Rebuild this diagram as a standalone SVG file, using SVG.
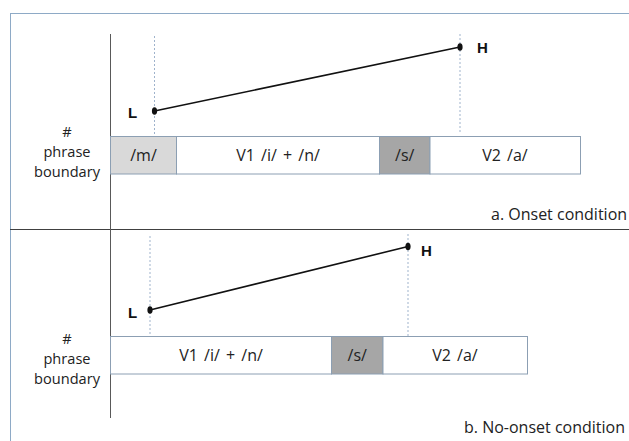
<svg xmlns="http://www.w3.org/2000/svg" width="629" height="441" viewBox="0 0 629 441">
<style>
text{font-family:"Open Sans","Noto Sans","DejaVu Sans",sans-serif;fill:#222}
.lbl{font-size:14.6px;text-anchor:middle}
.bar{font-size:16px;text-anchor:middle;word-spacing:2px}
.tone{font-family:"Liberation Sans",Arial,sans-serif;font-size:15px;font-weight:bold;fill:#111}
.cond{font-size:16px}
.cell{stroke:#8c9fb3;stroke-width:1}
.guide{stroke:#9fb3cc;stroke-width:1;stroke-dasharray:2 2;fill:none}
.contour{stroke:#111;stroke-width:1.6;fill:none}
.dot{fill:#111}
</style>
<rect x="0" y="0" width="629" height="441" fill="#fff"/>
<rect id="frame" x="10.5" y="13.5" width="660" height="470" fill="none" stroke="#8eaac6" stroke-width="1"/>
<line id="divider" x1="10" y1="229.5" x2="629" y2="229.5" stroke="#404040" stroke-width="1"/>
<line id="axis" x1="110.5" y1="34" x2="110.5" y2="418" stroke="#595959" stroke-width="1"/>

<g id="connectors">
<line class="guide" x1="154.5" y1="36" x2="154.5" y2="136"/>
<line class="guide" x1="460" y1="34" x2="460" y2="134"/>
<line class="contour" x1="154.5" y1="111" x2="460" y2="47"/>
<line class="guide" x1="150" y1="236" x2="150" y2="336"/>
<line class="guide" x1="408" y1="234" x2="408" y2="336"/>
<line class="contour" x1="150" y1="310" x2="408" y2="246.5"/>
</g>

<g id="panel-a">
<g id="a-boundary">
<text class="lbl" x="67" y="137">#</text>
<text class="lbl" x="67" y="157">phrase</text>
<text class="lbl" x="67" y="177">boundary</text>
</g>
<g id="a-m"><rect class="cell" x="110.5" y="136.5" width="66" height="37.5" fill="#d9d9d9"/><text class="bar" x="143.5" y="160.5">/m/</text></g>
<g id="a-v1"><rect class="cell" x="176.5" y="136.5" width="203" height="37.5" fill="#fff"/><text class="bar" x="278" y="160.5">V1 /i/ + /n/</text></g>
<g id="a-s"><rect class="cell" x="379.5" y="136.5" width="50.5" height="37.5" fill="#a6a6a6"/><text class="bar" x="404.7" y="160.5">/s/</text></g>
<g id="a-v2"><rect class="cell" x="430" y="136.5" width="150.5" height="37.5" fill="#fff"/><text class="bar" x="505" y="160.5">V2 /a/</text></g>
<g id="a-L"><ellipse class="dot" cx="154.5" cy="111" rx="2.6" ry="3.8"/><text class="tone" x="128" y="117.5">L</text></g>
<g id="a-H"><ellipse class="dot" cx="460" cy="47" rx="2.6" ry="3.8"/><text class="tone" x="477" y="53.3">H</text></g>
<text class="cond" x="491" y="219.5">a. Onset condition</text>
</g>

<g id="panel-b">
<g id="b-boundary">
<text class="lbl" x="67" y="344">#</text>
<text class="lbl" x="67" y="364">phrase</text>
<text class="lbl" x="67" y="384">boundary</text>
</g>
<g id="b-v1"><rect class="cell" x="110.5" y="336.5" width="221" height="37.5" fill="#fff"/><text class="bar" x="221" y="361">V1 /i/ + /n/</text></g>
<g id="b-s"><rect class="cell" x="331.5" y="336.5" width="51.5" height="37.5" fill="#a6a6a6"/><text class="bar" x="357.2" y="361">/s/</text></g>
<g id="b-v2"><rect class="cell" x="383" y="336.5" width="144.5" height="37.5" fill="#fff"/><text class="bar" x="455" y="361">V2 /a/</text></g>
<g id="b-L"><ellipse class="dot" cx="150" cy="310" rx="2.6" ry="3.8"/><text class="tone" x="128" y="318">L</text></g>
<g id="b-H"><ellipse class="dot" cx="408" cy="246.5" rx="2.6" ry="3.8"/><text class="tone" x="421" y="256">H</text></g>
<text class="cond" x="464" y="433">b. No-onset condition</text>
</g>
</svg>
